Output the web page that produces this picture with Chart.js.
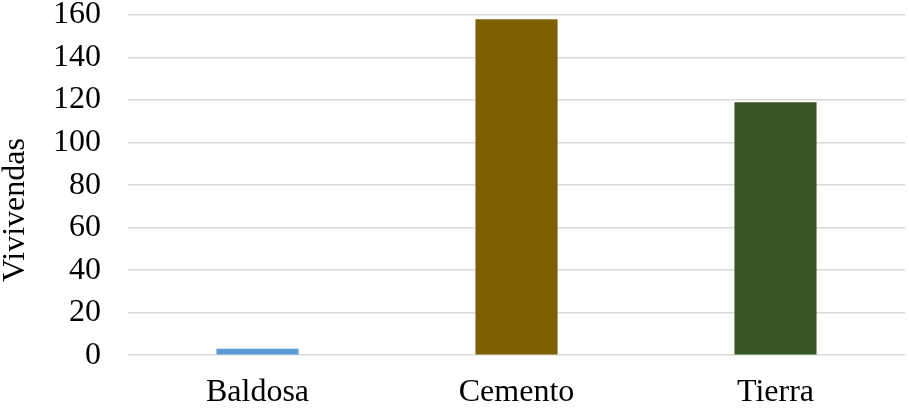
<!DOCTYPE html>
<html>
<head>
<meta charset="utf-8">
<script src="https://cdn.jsdelivr.net/npm/chart.js@4.4.1/dist/chart.umd.min.js"></script>
<style>
  html, body { margin: 0; padding: 0; background: #ffffff; }
  #wrap { width: 909px; height: 411px; }
</style>
</head>
<body>
<div id="wrap"><canvas id="chart" width="909" height="411"></canvas></div>
<script>
// Floor material of the dwellings
const categories = ['Baldosa', 'Cemento', 'Tierra'];
const viviendas = [3, 158, 119];
const barColors = ['#5b9bd5', '#7f6000', '#375623'];
const yTicks = [0, 20, 40, 60, 80, 100, 120, 140, 160];
const yTitle = 'Vivivendas';

const FONT = '"Liberation Serif", "Times New Roman", serif';
const FONT_SIZE = 32;

// Rotated axis title, centred on the full chart height
const yTitlePlugin = {
  id: 'yTitle',
  afterDraw(chart) {
    const ctx = chart.ctx;
    ctx.save();
    ctx.font = FONT_SIZE + 'px ' + FONT;
    ctx.fillStyle = '#000000';
    ctx.textAlign = 'center';
    ctx.textBaseline = 'middle';
    ctx.translate(16, 210);
    ctx.rotate(-Math.PI / 2);
    ctx.fillText(yTitle, 0, 0);
    ctx.restore();
  }
};

new Chart(document.getElementById('chart'), {
  type: 'bar',
  data: {
    labels: categories,
    datasets: [{
      data: viviendas,
      backgroundColor: barColors,
      borderWidth: 0,
      categoryPercentage: 1.0,
      barPercentage: 0.317
    }]
  },
  options: {
    responsive: false,
    animation: false,
    layout: { padding: { left: 53, right: 4, top: 0, bottom: 0 } },
    plugins: {
      legend: { display: false },
      tooltip: { enabled: false }
    },
    scales: {
      x: {
        grid: { display: false, drawTicks: true, tickLength: 19 },
        border: { display: false },
        ticks: {
          color: '#000000',
          font: { family: FONT, size: FONT_SIZE, lineHeight: 1.15 },
          padding: 0
        }
      },
      y: {
        min: 0,
        max: 160,
        afterBuildTicks(scale) {
          scale.ticks = yTicks.map(v => ({ value: v }));
        },
        grid: {
          color: '#d9d9d9',
          lineWidth: 1.5,
          drawTicks: true,
          tickLength: 27,
          tickColor: 'rgba(0,0,0,0)'
        },
        border: { display: false },
        ticks: {
          color: '#000000',
          font: { family: FONT, size: FONT_SIZE, lineHeight: 0.94 },
          padding: 0
        }
      }
    }
  },
  plugins: [yTitlePlugin]
});
</script>
</body>
</html>
